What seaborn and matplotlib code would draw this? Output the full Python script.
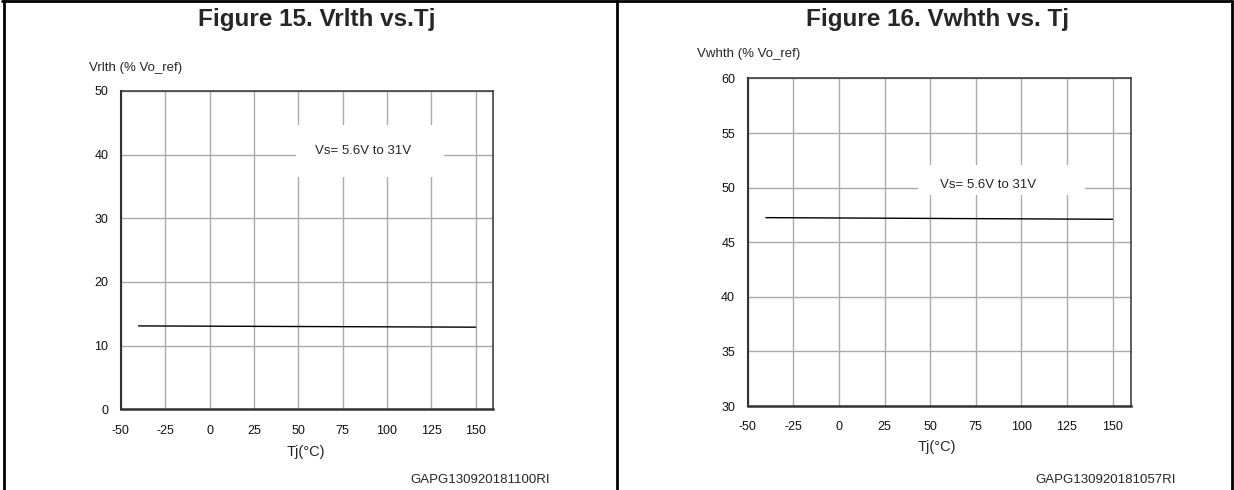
import matplotlib
matplotlib.use('Agg')
import matplotlib.pyplot as plt
import seaborn as sns
from matplotlib.lines import Line2D
from matplotlib.patches import Rectangle

# Data
tj_15 = [-40, 150]
vrlth = [13.1, 12.9]
tj_16 = [-40, 150]
vwhth = [47.25, 47.1]

x_ticks = [-50, -25, 0, 25, 50, 75, 100, 125, 150]
y_ticks_15 = [0, 10, 20, 30, 40, 50]
y_ticks_16 = [30, 35, 40, 45, 50, 55, 60]

titles = ['Figure 15. Vrlth vs.Tj', 'Figure 16. Vwhth vs. Tj']
y_labels = ['Vrlth (% Vo_ref)', 'Vwhth (% Vo_ref)']
codes = ['GAPG130920181100RI', 'GAPG130920181057RI']
cond_label = 'Vs= 5.6V to 31V'

sns.set_theme(style='white')
plt.rcParams['font.family'] = ['Liberation Sans', 'DejaVu Sans']
plt.rcParams['axes.unicode_minus'] = False

fig = plt.figure(figsize=(12.34, 4.9), dpi=100)
ax1 = fig.add_axes([0.0979, 0.1647, 0.3019, 0.6496])
ax2 = fig.add_axes([0.6059, 0.1714, 0.3105, 0.6686])

def style_axes(ax, yticks):
    ax.set_xlim(-50, 160)
    ax.set_ylim(yticks[0], yticks[-1])
    ax.set_xticks(x_ticks)
    ax.set_yticks(yticks)
    ax.set_axisbelow(True)
    ax.grid(True, color='#aaaaaa', linewidth=1)
    ax.tick_params(length=0, labelsize=9, colors='#111111')
    ax.tick_params(axis='x', pad=11)
    ax.tick_params(axis='y', pad=9)
    for s in ax.spines.values():
        s.set_color('#333333')
        s.set_linewidth(1.1)
    ax.spines['bottom'].set_linewidth(1.8)
    ax.spines['left'].set_linewidth(1.5)
    ax.set_xlabel('')
    ax.set_ylabel('')

sns.lineplot(x=tj_15, y=vrlth, ax=ax1, color='black', linewidth=1, zorder=3)
style_axes(ax1, y_ticks_15)
ax1.add_patch(Rectangle((48.6, 36.5), 83.4, 8.2, facecolor='white', edgecolor='none', zorder=1))
ax1.text(86.4, 40.6, cond_label, fontsize=9.5, ha='center', va='center', zorder=4)

sns.lineplot(x=tj_16, y=vwhth, ax=ax2, color='black', linewidth=1, zorder=3)
style_axes(ax2, y_ticks_16)
ax2.add_patch(Rectangle((43.4, 49.3), 91.6, 2.8, facecolor='white', edgecolor='none', zorder=1))
ax2.text(82, 50.25, cond_label, fontsize=9.5, ha='center', va='center', zorder=4)

# titles and labels
fig.text(0.257, 0.961, titles[0], fontsize=17.5, fontweight='bold', ha='center', va='center')
fig.text(0.760, 0.961, titles[1], fontsize=17.5, fontweight='bold', ha='center', va='center')
fig.text(0.072, 0.861, y_labels[0], fontsize=9.5, ha='left', va='center')
fig.text(0.565, 0.890, y_labels[1], fontsize=9.5, ha='left', va='center')
fig.text(0.248, 0.078, 'Tj(°C)', fontsize=10.5, ha='center', va='center')
fig.text(0.759, 0.088, 'Tj(°C)', fontsize=10.5, ha='center', va='center')
fig.text(0.4457, 0.020, codes[0], fontsize=9.5, ha='right', va='center')
fig.text(0.953, 0.020, codes[1], fontsize=9.5, ha='right', va='center')

# outer frame of the datasheet table
frame = dict(color='black', linewidth=2, transform=fig.transFigure)
fig.add_artist(Line2D([0.002, 0.998], [0.997, 0.997], **frame))
fig.add_artist(Line2D([0.003, 0.003], [0, 0.997], **frame))
fig.add_artist(Line2D([0.5, 0.5], [0, 0.997], **frame))
fig.add_artist(Line2D([0.998, 0.998], [0, 0.997], **frame))

fig.savefig('out.png', dpi=100)
